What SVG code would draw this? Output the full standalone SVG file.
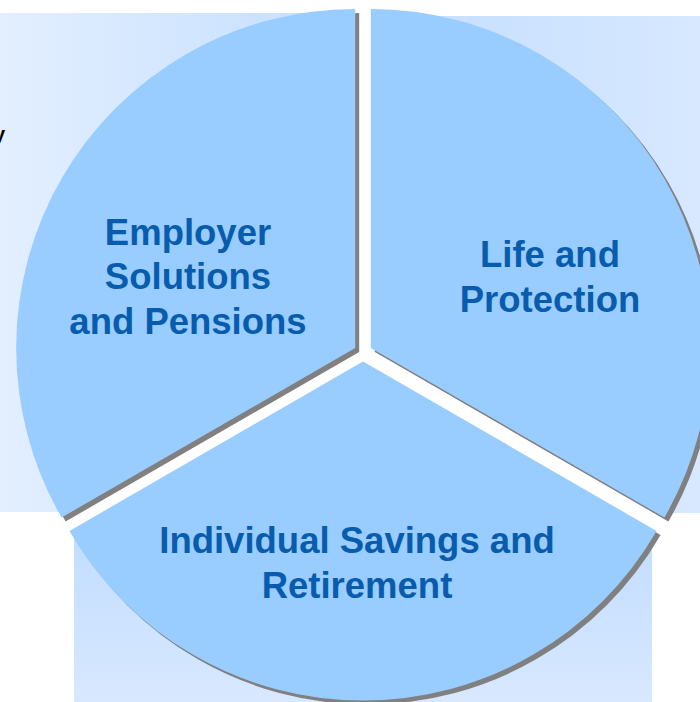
<svg xmlns="http://www.w3.org/2000/svg" width="700" height="702" viewBox="0 0 700 702">
  <defs>
    <linearGradient id="gradLeft" x1="0" y1="0" x2="1" y2="0">
      <stop offset="0" stop-color="#E3EFFF"/>
      <stop offset="1" stop-color="#C3DEFF"/>
    </linearGradient>
    <linearGradient id="gradRight" x1="0" y1="0" x2="1" y2="0">
      <stop offset="0" stop-color="#C3DEFF"/>
      <stop offset="1" stop-color="#D7E8FF"/>
    </linearGradient>
    <linearGradient id="gradBottom" x1="0" y1="0" x2="0" y2="1">
      <stop offset="0" stop-color="#C1DDFF"/>
      <stop offset="1" stop-color="#D8E8FF"/>
    </linearGradient>
  </defs>
  <style>
    .slice { fill: #99CCFF; }
    .shadow { fill: #808080; }
    .gap { stroke: #FFFFFF; stroke-width: 16; fill: none; }
    .label { font-family: "Liberation Sans", Arial, sans-serif; font-weight: bold; font-size: 36.5px; fill: #085CAE; text-anchor: middle; }
  </style>

  <!-- background panels -->
  <g id="panels">
    <rect x="0" y="13" width="357" height="499" fill="url(#gradLeft)"/>
    <rect x="371" y="16" width="329" height="497" fill="url(#gradRight)"/>
    <rect x="74" y="530" width="578" height="172" fill="url(#gradBottom)"/>
    <text x="-6" y="141" font-family="Liberation Sans, Arial, sans-serif" font-weight="bold" font-size="20" fill="#000000">y</text>
  </g>

  <!-- white separators between the exploded segments -->
  <g id="separators">
    <path class="gap" d="M363,352.5 L363,0 M363,352.5 L51.2,532.5 M363,352.5 L674.8,532.5"/>
  </g>

  <!-- exploded pie segments, each with a drop shadow -->
  <g id="employer-solutions">
    <path class="shadow" transform="translate(4,4)" d="M355.2,348 L355.2,9 A339,339 0 0 0 61.6,517.5 Z"/>
    <path class="slice" d="M355.2,348 L355.2,9 A339,339 0 0 0 61.6,517.5 Z"/>
    <text class="label" x="188" y="245">Employer</text>
    <text class="label" x="188" y="289">Solutions</text>
    <text class="label" x="188" y="334">and Pensions</text>
  </g>

  <g id="life-protection">
    <path class="shadow" transform="translate(4,4)" d="M370.8,348 L370.8,9 A339,339 0 0 1 664.4,517.5 Z"/>
    <path class="slice" d="M370.8,348 L370.8,9 A339,339 0 0 1 664.4,517.5 Z"/>
    <text class="label" x="550" y="267">Life and</text>
    <text class="label" x="550" y="312">Protection</text>
  </g>

  <g id="individual-savings">
    <path class="shadow" transform="translate(4,4)" d="M363,361.5 L656.6,531 A339,339 0 0 1 69.4,531 Z"/>
    <path class="slice" d="M363,361.5 L656.6,531 A339,339 0 0 1 69.4,531 Z"/>
    <text class="label" x="357" y="553">Individual Savings and</text>
    <text class="label" x="357" y="598">Retirement</text>
  </g>

  <g id="connectors"></g>
</svg>
